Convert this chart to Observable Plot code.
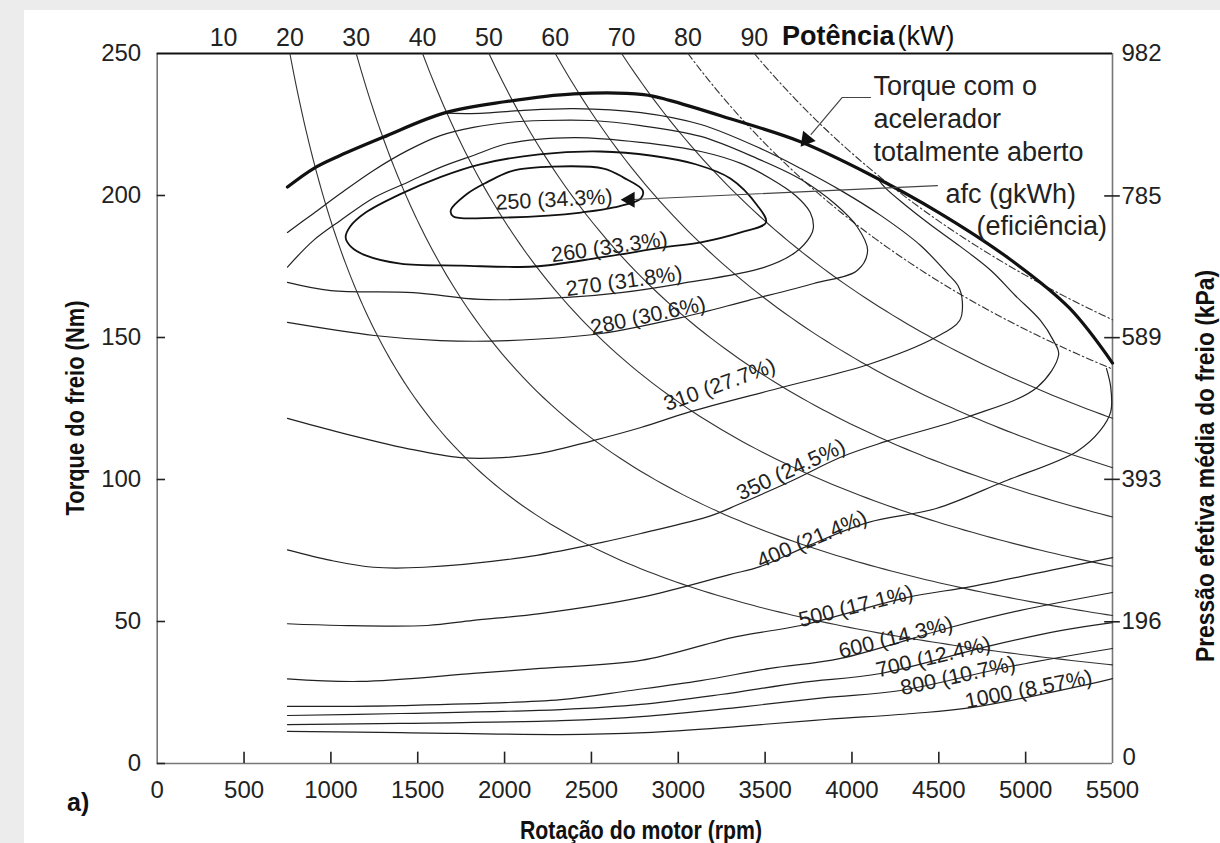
<!DOCTYPE html>
<html><head><meta charset="utf-8">
<script src="https://cdn.jsdelivr.net/npm/d3@7"></script>
<script src="https://cdn.jsdelivr.net/npm/@observablehq/plot@0.6"></script>
<style>
html,body{margin:0;padding:0;background:#ececec;width:1220px;height:843px;overflow:hidden;}
#page{position:absolute;left:24px;top:10px;width:1196px;height:833px;background:#fff;}
#chart{position:absolute;left:0;top:0;}
</style></head><body>
<div id="page"></div><div id="chart"></div>
<script>
// ---- axes / ticks ----
const rpmTicks = [0,500,1000,1500,2000,2500,3000,3500,4000,4500,5000,5500];
const torqueTicks = [0,50,100,150,200,250];
const bmepTicks = [0,196,393,589,785,982];          // kPa, right axis
const powerLabels = [10,20,30,40,50,60,70,80,90];    // kW, top axis
const powerLinesKW = [20,30,40,50,60,70,80,90];      // constant power curves drawn
const dashDotKW = [80,90];

// ---- wide open throttle torque ----
const wotRpm = [750,900,1050,1300,1650,2000,2400,2800,2950,3300,3700,4100,4500,4900,5250,5500];
const wotNm  = [203,209.5,214,220.5,229,233,235.8,235.5,233.5,227,219,207.5,194,178,160.5,141];

// ---- bsfc contours (g/kWh) ----
const c250Rpm = [1690,1785,1900,2050,2280,2570,2685,2795,2785,2630,2440,2250,1960,1705];
const c250Nm  = [194.7,200.6,204.7,208.8,210.2,209.5,206.3,201.8,199.0,195.8,194.0,192.9,192.2,192.6];

const c260Rpm = [1085,1110,1200,1400,1630,1860,2200,2550,2850,3100,3300,3455,3505,3360,3130,2915,2555,2170,1750,1400,1200,1115];
const c260Nm  = [185.2,189,194,200.5,206.5,211,214.5,215.5,214,211,206,196.5,190.5,187,183.5,181.7,178.2,175,175.3,176,178.9,182];

const c270Rpm = [750,1000,1475,1860,2360,2670,3015,3490,3675,3760,3778,3760,3675,3530,3360,3130,2785,2400,2020,1820,1630,1440,1250,1055,900,750];
const c270Nm  = [169.4,166.5,165.8,163.4,164.1,165.8,169,174.6,180,185.6,188.7,194,200,206,211.3,215.5,218.7,220.4,218.3,214.1,209.9,204.6,199.3,191.2,184.2,174.8];

const c280Rpm = [750,900,1055,1250,1440,1630,1820,2020,2225,2495,2785,3130,3455,3705,3905,4030,4090,4030,3780,3400,3015,2555,2020,1630,1250,750];
const c280Nm  = [187,193.7,200.7,209,215.8,221.1,224,225.7,226.4,226.4,224.6,220.8,213,205.7,196.9,189,180.6,173.6,169,163,157,151.4,148.9,148.9,150.7,155.3];

const c310Rpm = [750,1055,1440,1745,1990,2205,2510,2785,3070,3595,4095,4480,4620,4635,4610,4550,4395,4165,3935,3705,3475,3130,2785,2400,2090,1860,1671];
const c310Nm  = [121.5,116.5,110.9,107.7,107.7,109.2,113.7,118.3,123.9,132.4,140.5,150,156,163,168.3,172.5,182.4,193,201.8,209.5,216.5,225,229.2,230.6,229.9,228.9,229];

const c350Rpm = [750,1000,1245,1535,2110,2555,2785,3190,3345,3645,3945,4195,4675,5065,5190,5160,5085,4940,4800,4625,4450,4310,4195,4150];
const c350Nm  = [75.2,71.5,69.1,69.1,72.6,77.8,81,87.3,91.2,99.3,108.1,113.4,122.2,132.4,144,148.9,156,164.8,173.6,182,189.8,196.5,202.5,205.8];

const c400Rpm = [750,1055,1555,1820,2205,2785,3295,3475,3760,4095,4485,4875,5295,5430,5490,5490,5465];
const c400Nm  = [49.2,48.6,48.6,50.4,52.8,58.5,66.5,69.4,77,84.9,89.8,99.3,109.9,117.3,123.9,132.4,139.1];

const c500Rpm = [750,1170,1820,2205,2785,3335,3705,4320,4685,5220,5500];
const c500Nm  = [29.8,28.9,31.7,33.5,36.3,44.7,48.6,58.5,62.3,69,72.5];

const c600Rpm = [750,1400,2325,2725,3130,3530,3935,4565,4970,5500];
const c600Nm  = [20.1,20.4,22.5,25.7,29.2,33.5,37,47.9,53.9,60.2];

const c700Rpm = [750,1400,2325,2785,3245,3705,4165,4800,5200,5500];
const c700Nm  = [16.9,17.6,19,20.8,24.3,28.5,31.7,41.5,46.8,49.6];

const c800Rpm = [750,1400,2325,2785,3335,3845,4280,4940,5500];
const c800Nm  = [13.7,14.1,15.1,16.5,19.7,23.2,25.7,34.5,40.5];

const c1000Rpm = [750,1400,2325,2810,3335,3845,4350,4685,5405,5500];
const c1000Nm  = [11.3,10.9,10.2,10.9,13,15.5,17.6,19.7,28.5,29.9];

// ---- contour labels ----
const labelText  = ["250 (34.3%)","260 (33.3%)","270 (31.8%)","280 (30.6%)","310 (27.7%)","350 (24.5%)","400 (21.4%)","500 (17.1%)","600 (14.3%)","700 (12.4%)","800 (10.7%)","1000 (8.57%)"];
const labelRpm   = [1950,2275,2360,2505,2935,3360,3475,3705,3935,4150,4290,4660];
const labelNm    = [195,176.5,164.5,151,124,92.5,68.7,48,37,30.3,24,19.4];
const labelAngle = [-3,-8,-8,-12,-20,-25,-23,-14,-14,-13.5,-12.5,-11];

// ---- annotations ----
const wotNote = "Torque com o\nacelerador\ntotalmente aberto";
const wotNoteAt = {rpm: 4124, nm: 243.5};
const wotLeaderRpm = [4107,3943,3765];
const wotLeaderNm  = [234.5,234.5,221.5];
const afcLeaderRpm = [4492,2740];
const afcLeaderNm  = [203.5,198.6];

// ---------- build tables ----------
const rows = (rpm, nm, extra={}) => rpm.map((r,i)=>({rpm:r, nm:nm[i], ...extra}));
const closed = [...rows(c250Rpm,c250Nm,{level:"250"}), ...rows(c260Rpm,c260Nm,{level:"260"})];
const open = [
  ...rows(c270Rpm,c270Nm,{level:"270"}), ...rows(c280Rpm,c280Nm,{level:"280"}),
  ...rows(c310Rpm,c310Nm,{level:"310"}), ...rows(c350Rpm,c350Nm,{level:"350"}),
  ...rows(c400Rpm,c400Nm,{level:"400"}), ...rows(c500Rpm,c500Nm,{level:"500"}),
  ...rows(c600Rpm,c600Nm,{level:"600"}), ...rows(c700Rpm,c700Nm,{level:"700"}),
  ...rows(c800Rpm,c800Nm,{level:"800"}), ...rows(c1000Rpm,c1000Nm,{level:"1000"})
];
const wot = rows(wotRpm, wotNm);
// constant-power curves: P = T * omega
const K = 60000/(2*Math.PI);
const powerRows = [];
for (const p of powerLinesKW) {
  const r0 = p*K/250;
  for (let r = r0; r <= 5500.001; r += (r < 1500 ? 10 : 40)) powerRows.push({kw:p, rpm:r, nm:p*K/r});
  powerRows.push({kw:p, rpm:5500, nm:p*K/5500});
}
const powerTickRpm = powerLabels.map(p => p*K/250);
const bmepTickNm = bmepTicks.map(k => k*250/982);
const labels = labelText.map((t,i)=>({t, rpm:labelRpm[i], nm:labelNm[i], a:labelAngle[i]}));

const font = "'Liberation Sans', Arial, Helvetica, sans-serif";
const chart = Plot.plot({
  width: 1220, height: 843,
  marginLeft: 156.7, marginRight: 108, marginTop: 53, marginBottom: 80,
  x: {domain: [0,5500]},
  y: {domain: [0,250]},
  style: {fontFamily: font, fontSize: "24px", color: "#222", background: "transparent", overflow: "visible"},
  marks: [
    Plot.axisX(rpmTicks, {anchor:"bottom", tickSize:0, tickPadding:17, label:null, fontSize:24, tickFormat: d => String(d)}),
    Plot.axisY(torqueTicks, {anchor:"left", tickSize:0, tickPadding:16, label:null, fontSize:24, tickFormat: d => String(d)}),
    Plot.axisY(bmepTickNm.slice(1), {anchor:"right", tickSize:0, tickPadding:9, label:null, fontSize:24,
      tickFormat: d => String(Math.round(d*982/250))}),
    Plot.text([bmepTicks[0]], {x: 5500, y: d => d*250/982, text: d => String(d), dx: 10, dy: -6, textAnchor: "start", fontSize: 24, fill: "#222"}),
    Plot.axisX(powerTickRpm, {anchor:"top", tickSize:0, tickPadding:8, label:null, fontSize:25,
      tickFormat: d => String(Math.round(d*250/K))}),
    // frame
    Plot.ruleX([0], {stroke:"#777", strokeWidth:1.6}),
    Plot.ruleX([5500], {stroke:"#777", strokeWidth:1.6}),
    Plot.ruleY([0], {stroke:"#777", strokeWidth:1.6}),
    Plot.ruleY([250], {stroke:"#111", strokeWidth:2.2}),
    // tick marks
    Plot.ruleY(torqueTicks.slice(0,-1), {x1:0, x2:48, stroke:"#222", strokeWidth:1.6}),
    Plot.ruleX(rpmTicks.slice(1,-1), {y1:0, y2:4, stroke:"#222", strokeWidth:1.6}),
    Plot.ruleY(bmepTickNm.slice(1,-1), {x1:5455, x2:5545, stroke:"#222", strokeWidth:1.6}),
    // constant power curves
    Plot.line(powerRows.filter(d => !dashDotKW.includes(d.kw)), {x:"rpm", y:"nm", z:"kw", stroke:"#333", strokeWidth:1.1}),
    Plot.line(powerRows.filter(d => dashDotKW.includes(d.kw)), {x:"rpm", y:"nm", z:"kw", stroke:"#333", strokeWidth:1.1, strokeDasharray:"7,3,1.5,3"}),
    // bsfc contours
    Plot.line(open, {x:"rpm", y:"nm", z:"level", curve:"catmull-rom", stroke:"#222", strokeWidth:1.2}),
    Plot.line(closed, {x:"rpm", y:"nm", z:"level", curve:"catmull-rom-closed", stroke:"#111", strokeWidth:1.8}),
    // full-throttle torque
    Plot.line(wot, {x:"rpm", y:"nm", curve:"catmull-rom", stroke:"#111", strokeWidth:3.2}),
    // contour labels
    Plot.text(labels, {x:"rpm", y:"nm", text:"t", rotate:"a", textAnchor:"start", lineAnchor:"bottom", fontSize:21.5, fill:"#222"}),
    // annotations
    Plot.line(rows(wotLeaderRpm, wotLeaderNm), {x:"rpm", y:"nm", stroke:"#444", strokeWidth:1.2}),
    Plot.dot([{rpm:3738, nm:219.7}], {x:"rpm", y:"nm", symbol:"triangle", r:6, fill:"#111", stroke:null, rotate:219}),
    Plot.line(rows(afcLeaderRpm, afcLeaderNm), {x:"rpm", y:"nm", stroke:"#444", strokeWidth:1.2}),
    Plot.dot([{rpm:2722, nm:198.5}], {x:"rpm", y:"nm", symbol:"triangle", r:6, fill:"#111", stroke:null, rotate:-90}),
    Plot.text([wotNote], {x: wotNoteAt.rpm, y: wotNoteAt.nm, text: d => d, textAnchor:"start", lineAnchor:"top", lineHeight:1.22, fontSize:27, fill:"#222"}),
    Plot.text(["afc (gkWh)"], {x:4538, y:204, text:d=>d, textAnchor:"start", lineAnchor:"top", fontSize:27, fill:"#222"}),
    Plot.text(["(eficiência)"], {x:4717, y:192.8, text:d=>d, textAnchor:"start", lineAnchor:"top", fontSize:27, fill:"#222"})
  ]
});
document.getElementById("chart").appendChild(chart);

const svg = d3.select(chart);
const bold = (sel) => sel.style("font-family", font).style("font-weight","bold").attr("fill","#111");
bold(svg.append("text")).attr("transform","translate(84,408) rotate(-90)").attr("text-anchor","middle")
  .style("font-size","26px").attr("textLength",215).attr("lengthAdjust","spacingAndGlyphs").text("Torque do freio (Nm)");
bold(svg.append("text")).attr("transform","translate(1214,466) rotate(-90)").attr("text-anchor","middle")
  .style("font-size","26px").attr("textLength",392).attr("lengthAdjust","spacingAndGlyphs").text("Pressão efetiva média do freio (kPa)");
bold(svg.append("text")).attr("x",641).attr("y",839).attr("text-anchor","middle")
  .style("font-size","26px").attr("textLength",242).attr("lengthAdjust","spacingAndGlyphs").text("Rotação do motor (rpm)");
bold(svg.append("text")).attr("x",67).attr("y",811).attr("text-anchor","start").style("font-size","25px").text("a)");
const pt = svg.append("text").attr("x",782).attr("y",45).attr("text-anchor","start").style("font-family",font).style("font-size","27px").attr("fill","#111");
pt.append("tspan").style("font-weight","bold").text("Potência");
pt.append("tspan").text("(kW)").attr("dx", 3);
</script></body></html>
